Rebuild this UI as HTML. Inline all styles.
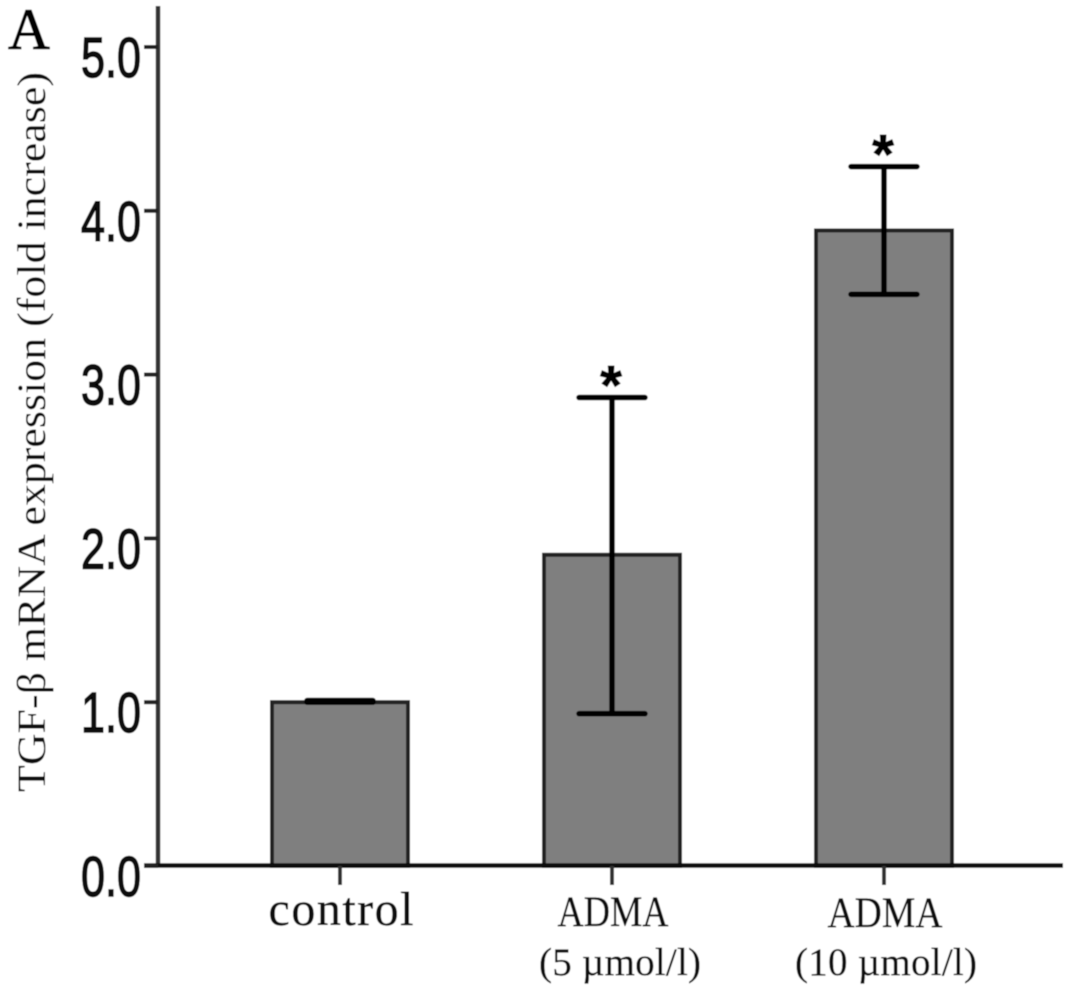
<!DOCTYPE html>
<html lang="en">
<head>
<meta charset="utf-8">
<title>TGF-β mRNA expression</title>
<style>
html,body{margin:0;padding:0;background:#fff;width:1087px;height:996px;overflow:hidden}
svg{display:block}
text{fill:#111}
.serif{font-family:"Liberation Serif",serif}
.sans{font-family:"Liberation Sans",sans-serif}
</style>
</head>
<body>
<svg id="chart" width="1087" height="996" viewBox="0 0 1087 996" xmlns="http://www.w3.org/2000/svg">
  <defs>
    <filter id="soft" x="0" y="0" width="100%" height="100%"><feGaussianBlur stdDeviation="0.6"/></filter>
  </defs>
  <g filter="url(#soft)">
    <rect x="0" y="0" width="1087" height="996" fill="#fff"/>
    <text class="serif" x="8" y="49" font-size="58" stroke="#000" stroke-width="0.9" style="fill:#000">A</text>
    <text class="serif" transform="translate(45,792) rotate(-90)" x="0" y="0" font-size="40" textLength="720" lengthAdjust="spacingAndGlyphs">TGF-β mRNA expression (fold increase)</text>
    <g id="bars"></g>
    <g id="axes"></g>
    <g id="errors"></g>
    <g id="labels"></g>
  </g>
</svg>
<script>
var categories = ['control', 'ADMA|(5 µmol/l)', 'ADMA|(10 µmol/l)'];
var means = [1.0, 1.9, 3.88];
var errorHigh = [1.01, 2.86, 4.27];
var errorLow = [1.0, 0.93, 3.49];
var significant = [false, true, true];
var yTicks = [0, 1, 2, 3, 4, 5];
var yTickLabels = ['0.0', '1.0', '2.0', '3.0', '4.0', '5.0'];

var NS = 'http://www.w3.org/2000/svg';
function yScale(v) { return 866 - v * 163.8; }
function xScale(i) { return 340 + i * 272; }
function mk(parent, tag, attrs) {
  var el = document.createElementNS(NS, tag);
  for (var k in attrs) el.setAttribute(k, attrs[k]);
  parent.appendChild(el);
  return el;
}
var barsG = document.getElementById('bars');
var axesG = document.getElementById('axes');
var errG = document.getElementById('errors');
var labG = document.getElementById('labels');
var halfBar = 68;

means.forEach(function (m, i) {
  var r = mk(barsG, 'rect', {x: xScale(i) - halfBar, y: yScale(m), width: halfBar * 2, height: yScale(0) - yScale(m), fill: '#7f7f7f', stroke: '#222', 'stroke-width': 4});
  
  
});

var yAxis = mk(axesG, 'line', {x1: 158, y1: 6, x2: 158, y2: 867, stroke: '#333', 'stroke-width': 4.5});


var xAxis = mk(axesG, 'line', {x1: 144, y1: 865.5, x2: 1063, y2: 865.5, stroke: '#111', 'stroke-width': 4.5});



yTicks.forEach(function (t, i) {
  var y = yScale(t);
  var tick = mk(axesG, 'line', {x1: 144, y1: y, x2: 158, y2: y, stroke: '#222', 'stroke-width': 4});
  
  
  var lab = mk(labG, 'text', {x: 141, y: y + 30, 'text-anchor': 'end', 'font-size': 57, 'class': 'sans', textLength: 60, lengthAdjust: 'spacingAndGlyphs', stroke: '#000', 'stroke-width': 1.5});
  lab.textContent = yTickLabels[i];
  
  
});

categories.forEach(function (c, i) {
  var x = xScale(i);
  var tick = mk(axesG, 'line', {x1: x, y1: 866, x2: x, y2: 885, stroke: '#333', 'stroke-width': 4});
  
  
  var parts = c.split('|');
  if (parts.length === 1) {
    var t0 = mk(labG, 'text', {x: x + 1, y: 925, 'text-anchor': 'middle', 'font-size': 48, 'class': 'serif', textLength: 145, lengthAdjust: 'spacing', stroke: '#111', 'stroke-width': 0.4});
    t0.textContent = parts[0];
    
    
  } else {
    var t1 = mk(labG, 'text', {x: x + 1, y: 926 + (i - 1), 'text-anchor': 'middle', 'font-size': 43, 'class': 'serif', textLength: i === 1 ? 111 : 115, lengthAdjust: 'spacingAndGlyphs', stroke: '#111', 'stroke-width': 0.3});
    t1.textContent = parts[0];
    
    
    var t2 = mk(labG, 'text', {x: x + 1 + (i === 1 ? 7 : 1), y: 975, 'text-anchor': 'middle', 'font-size': 39, 'class': 'serif', textLength: i === 1 ? 162 : 182, lengthAdjust: 'spacing', stroke: '#111', 'stroke-width': 0.3});
    t2.textContent = parts[1];
    
    
  }
});

errorHigh.forEach(function (hi, i) {
  var x = xScale(i);
  var lo = errorLow[i];
  var stem = mk(errG, 'line', {x1: x, y1: yScale(hi), x2: x, y2: yScale(lo), stroke: '#000', 'stroke-width': 5.5});
  
  
  [hi, lo].forEach(function (v) {
    var cap = mk(errG, 'line', {x1: x - 33, y1: yScale(v), x2: x + 33, y2: yScale(v), stroke: '#000', 'stroke-width': 5.5, 'stroke-linecap': 'round'});
    
    
  });
  if (significant[i]) {
    var star = mk(labG, 'text', {x: x - 1, y: yScale(hi) + 7, 'text-anchor': 'middle', 'font-size': 56, 'font-weight': 'bold', 'class': 'sans', stroke: '#000', 'stroke-width': 0.8, style: 'fill:#000'});
    star.textContent = '*';
    
    
  }
});
</script>
</body>
</html>
